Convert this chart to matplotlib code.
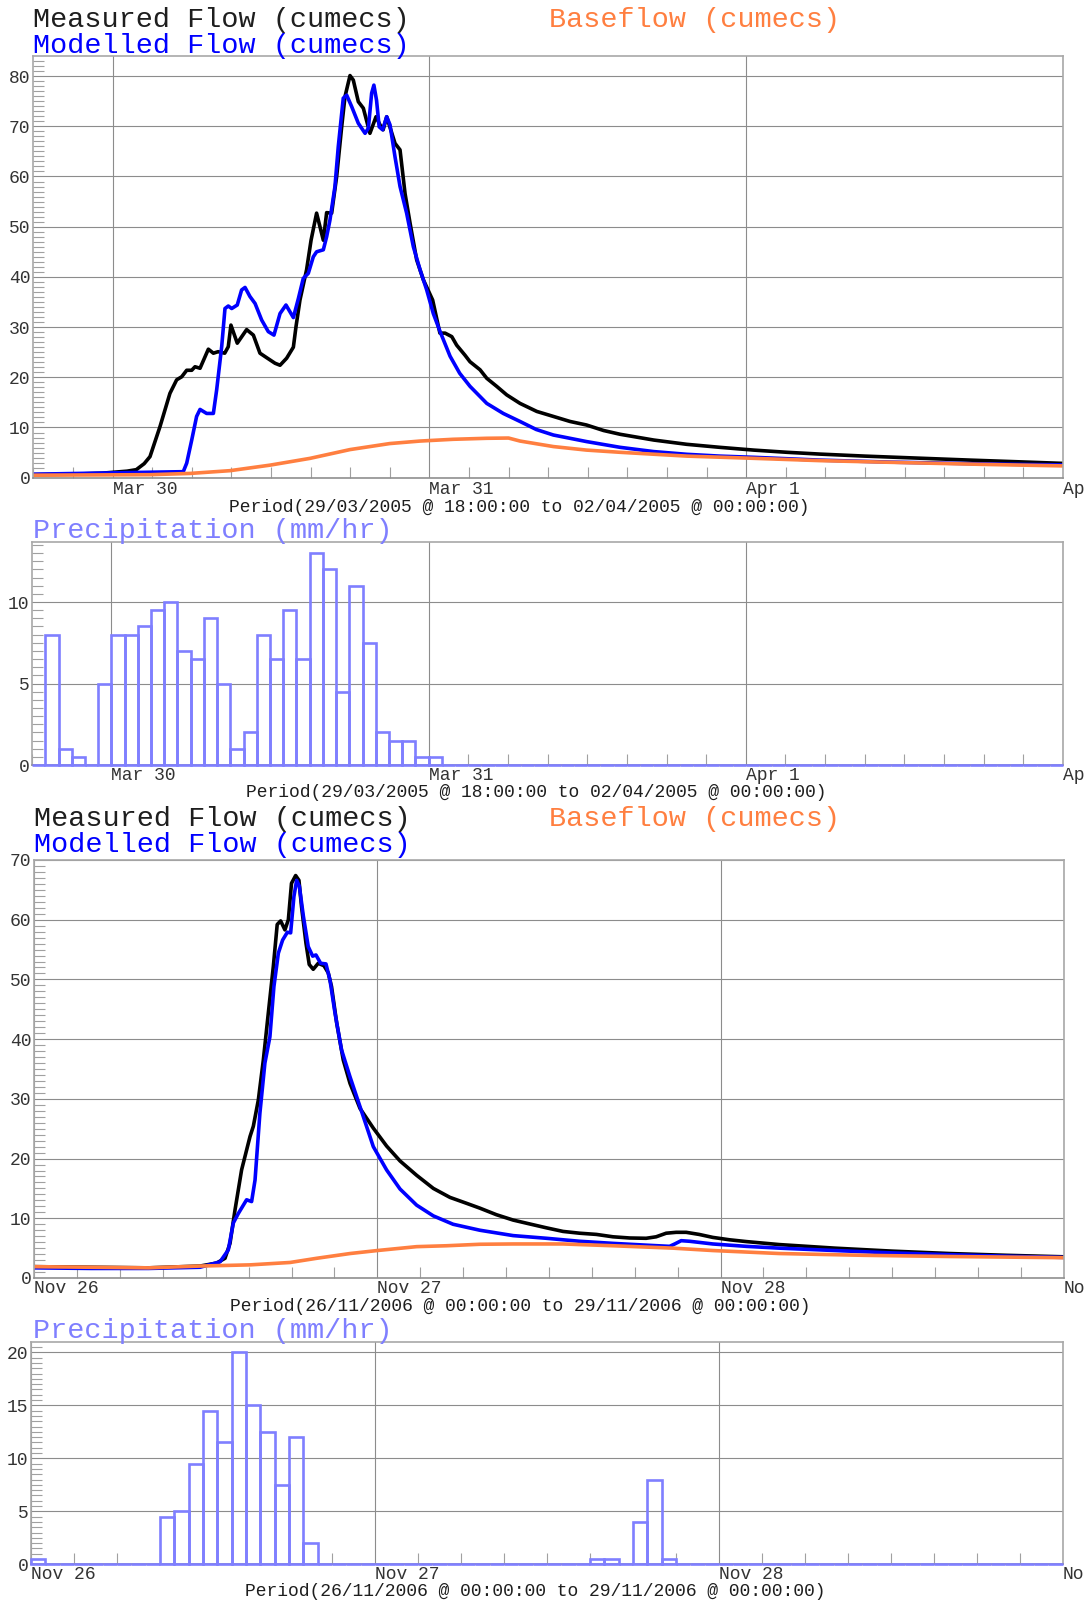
import numpy as np
import matplotlib
matplotlib.use("Agg")
import matplotlib.pyplot as plt

plt.rcParams["font.family"] = ["Liberation Mono", "DejaVu Sans Mono"]

# ---- event 1 : 29/03/2005 18:00 -> 02/04/2005 00:00 (hours from start) ----
t_meas1 = [0, 3, 5.2, 7.1, 7.8, 8.4, 8.84, 9.6, 10.35, 10.86, 11.24, 11.62, 12.0, 12.25, 12.63,
           13.26, 13.64, 14.0, 14.5, 14.77, 14.97, 15.45, 16.16, 16.67, 17.17, 17.68, 18.31,
           18.69, 19.19, 19.7, 19.9, 20.2, 20.7, 21.04, 21.46, 21.97, 22.22, 22.6, 22.98,
           23.36, 23.61, 23.99, 24.24, 24.62, 25.0, 25.5, 25.96, 26.26, 26.5, 26.77, 27.4,
           27.78, 28.16, 28.54, 29.04, 29.55, 30.25, 30.8, 31.19, 31.7, 32.07, 32.7, 33.08,
           33.84, 34.35, 35.1, 35.86, 36.87, 38.14, 39.4, 40.66, 41.9, 43.2, 44.45, 47.0,
           49.5, 52.0, 54.56, 57.1, 59.6, 63.0, 67.0, 71.0, 74.8, 78.0]
q_meas1 = [0.6, 0.7, 0.9, 1.3, 1.6, 2.8, 4.2, 10.2, 16.8, 19.5, 20.1, 21.4, 21.4, 22.1, 21.8,
           25.6, 24.8, 25.1, 24.8, 26.1, 30.4, 26.8, 29.5, 28.4, 24.8, 23.9, 22.8,
           22.4, 23.8, 26.0, 30.1, 35.4, 41.4, 47.3, 52.7, 47.3, 52.8, 52.7, 60.0,
           69.9, 75.9, 80.1, 79.2, 74.9, 73.6, 68.6, 71.9, 70.3, 69.3, 71.9, 66.6,
           65.3, 56.6, 50.7, 43.4, 39.4, 35.4, 28.8, 28.8, 28.1, 26.4, 24.4, 23.1,
           21.5, 19.8, 18.2, 16.5, 14.8, 13.2, 12.2, 11.2, 10.5, 9.4, 8.65, 7.5,
           6.65, 6.05, 5.5, 5.06, 4.7, 4.3, 3.9, 3.5, 3.15, 2.85]

t_mod1 = [0, 11.36, 11.62, 12.0, 12.37, 12.63, 13.13, 13.64, 13.89, 14.27, 14.52, 14.77, 15.03,
          15.45, 15.78, 16.04, 16.41, 16.8, 17.3, 17.8, 18.23, 18.69, 19.14, 19.7, 20.08,
          20.45, 20.83, 21.21, 21.46, 21.97, 22.22, 22.47, 22.85, 23.1, 23.48, 23.74, 24.12,
          24.62, 25.13, 25.38, 25.63, 25.8, 26.0, 26.2, 26.46, 26.77, 27.02, 27.4, 27.78,
          28.28, 28.79, 29.3, 29.8, 30.3, 30.8, 31.57, 32.3, 33.08, 34.35, 35.6, 36.87,
          38.1, 39.4, 41.9, 44.45, 47.0, 49.5, 52.0, 54.56, 59.6, 65.0, 72.0, 78.0]
q_mod1 = [0.7, 1.2, 2.9, 7.5, 12.2, 13.6, 12.8, 12.8, 17.5, 26.1, 33.7, 34.2, 33.7,
          34.4, 37.4, 37.9, 36.1, 34.7, 31.4, 29.1, 28.4, 32.7, 34.4, 31.9, 35.7,
          39.7, 40.7, 44.0, 45.0, 45.4, 48.0, 51.3, 58.0, 65.9, 75.6, 76.2, 73.9,
          70.6, 68.6, 69.6, 76.6, 78.2, 75.2, 69.9, 69.3, 71.9, 70.3, 63.9, 58.0,
          52.7, 46.0, 41.4, 37.4, 32.7, 29.2, 24.2, 20.8, 18.2, 14.8, 12.8, 11.2,
          9.6, 8.5, 7.2, 6.05, 5.2, 4.66, 4.3, 4.06, 3.5, 3.1, 2.75, 2.55]

t_base1 = [0, 8.84, 11.87, 14.9, 17.93, 20.96, 23.99, 27.0, 29.3, 31.8, 34.35, 36.0, 36.87,
           39.4, 41.9, 44.45, 49.5, 54.56, 59.6, 66.0, 72.0, 78.0]
q_base1 = [0.5, 0.6, 0.85, 1.4, 2.5, 3.85, 5.6, 6.8, 7.3, 7.65, 7.85, 7.9, 7.3,
           6.2, 5.5, 5.06, 4.3, 3.86, 3.4, 3.0, 2.65, 2.35]

# hourly rainfall, one value per hour from the start of the period
rain1 = [0, 8, 1, 0.5, 0, 5, 8, 8, 8.5, 9.5, 10, 7, 6.5, 9, 5, 1, 2, 8, 6.5, 9.5,
         6.5, 13, 12, 4.5, 11, 7.5, 2, 1.5, 1.5, 0.5, 0.5, 0, 0, 0, 0, 0, 0, 0, 0, 0,
         0, 0, 0, 0, 0, 0, 0, 0, 0, 0, 0, 0, 0, 0, 0, 0, 0, 0, 0, 0,
         0, 0, 0, 0, 0, 0, 0, 0, 0, 0, 0, 0, 0, 0, 0, 0, 0, 0]

days1 = [6, 30, 54, 78]
day_labels1 = ["Mar 30", "Mar 31", "Apr 1", "Ap"]
period1 = "Period(29/03/2005 @ 18:00:00 to 02/04/2005 @ 00:00:00)"

# ---- event 2 : 26/11/2006 00:00 -> 29/11/2006 00:00 ----
t_meas2 = [0, 4, 8, 11.6, 12.76, 13.35, 13.7, 14.05, 14.51, 15.1, 15.33, 15.68, 16.03, 16.38,
           16.73, 17.0, 17.24, 17.54, 17.78, 18.0, 18.29, 18.52, 18.7, 19.01, 19.24, 19.52,
           19.87, 20.27, 20.57, 20.8, 21.16, 21.62, 22.09, 22.79, 23.72, 24.65, 25.59, 26.75,
           27.92, 29.08, 30.25, 31.17, 32.33, 33.5, 34.66, 35.83, 36.99, 38.15, 39.32, 40.48,
           41.65, 42.8, 43.5, 44.2, 44.9, 45.6, 46.5, 47.46, 48.63, 49.8, 52.1, 56.0, 60.0,
           64.0, 68.0, 72.0]
q_meas2 = [1.9, 1.8, 1.7, 2.0, 2.5, 3.3, 5.8, 11.4, 18.1, 23.7, 25.4, 29.8, 36.5, 44.4,
           52.2, 59.2, 59.8, 58.3, 60.0, 66.1, 67.4, 66.6, 62.2, 56.1, 52.5, 51.7,
           52.7, 52.3, 51.1, 48.8, 42.7, 36.5, 32.6, 28.4, 25.1, 22.1, 19.6, 17.2,
           15.0, 13.5, 12.5, 11.7, 10.6, 9.7, 9.05, 8.4, 7.8, 7.5, 7.3, 6.9,
           6.7, 6.65, 6.9, 7.5, 7.65, 7.65, 7.3, 6.8, 6.4, 6.1, 5.6, 5.0, 4.5,
           4.1, 3.8, 3.55]

t_mod2 = [0, 4, 8, 11.6, 13.0, 13.58, 13.93, 14.28, 14.86, 15.21, 15.45, 15.79, 16.14, 16.49,
          16.77, 17.08, 17.38, 17.71, 17.94, 18.17, 18.36, 18.55, 18.83, 19.17, 19.48, 19.71,
          20.04, 20.41, 20.69, 21.04, 21.5, 22.09, 22.79, 23.72, 24.65, 25.59, 26.75, 27.92,
          29.3, 31.17, 33.5, 35.83, 38.15, 40.48, 42.8, 44.44, 44.8, 45.25, 45.84, 47.46,
          49.8, 52.1, 56.0, 60.0, 64.0, 68.0, 72.0]
q_mod2 = [1.7, 1.6, 1.6, 1.8, 2.7, 4.7, 9.2, 10.8, 13.1, 12.8, 16.4, 27.6, 36.0, 40.4,
          48.8, 54.4, 56.6, 57.9, 57.8, 63.9, 66.6, 65.6, 60.6, 55.5, 53.9, 54.1,
          52.7, 52.6, 49.9, 44.4, 38.2, 33.7, 28.7, 22.0, 18.1, 14.9, 12.2, 10.4,
          9.0, 8.0, 7.1, 6.65, 6.15, 5.8, 5.5, 5.3, 5.7, 6.25, 6.15, 5.7,
          5.3, 5.0, 4.6, 4.2, 3.9, 3.65, 3.45]

t_base2 = [0, 8, 11.6, 15.1, 17.9, 19.76, 22.1, 24.0, 26.75, 28.84, 31.18, 33.5, 36.99,
           40.48, 44.67, 47.46, 52.1, 58.0, 64.0, 72.0]
q_base2 = [1.9, 1.7, 2.0, 2.2, 2.6, 3.3, 4.1, 4.6, 5.25, 5.4, 5.65, 5.7, 5.7,
           5.4, 5.0, 4.6, 4.1, 3.8, 3.6, 3.4]

rain2 = [0.5, 0, 0, 0, 0, 0, 0, 0, 0, 4.5, 5, 9.5, 14.5, 11.5, 20, 15, 12.5, 7.5, 12, 2,
         0, 0, 0, 0, 0, 0, 0, 0, 0, 0, 0, 0, 0, 0, 0, 0, 0, 0, 0, 0.5,
         0.5, 0, 4, 8, 0.5, 0, 0, 0, 0, 0, 0, 0, 0, 0, 0, 0, 0, 0, 0, 0,
         0, 0, 0, 0, 0, 0, 0, 0, 0, 0, 0, 0]

days2 = [0, 24, 48, 72]
day_labels2 = ["Nov 26", "Nov 27", "Nov 28", "No"]
period2 = "Period(26/11/2006 @ 00:00:00 to 29/11/2006 @ 00:00:00)"

# ---- styling ----
W, H = 1090, 1600
BLACK, BLUE, ORANGE, RAIN = "#000000", "#0000ff", "#ff7f40", "#7f7fff"
TXT, TICK = "#1e1e1e", "#333333"
BIG, SMALL = 20.5, 13

fig = plt.figure(figsize=(W / 100, H / 100), dpi=100)


def box(l, t, r, b):
    return [l / W, 1 - b / H, (r - l) / W, (b - t) / H]


def ftext(x, y, s, color, size, **kw):
    fig.text(x / W, 1 - y / H, s, color=color, fontsize=size, va="baseline", **kw)


def style(ax, xmax, days, labels, ymax, ystep, yminor, xpad):
    ax.set_xlim(0, xmax)
    ax.set_ylim(0, ymax)
    ax.set_xticks(days, labels)
    ax.set_xticks(np.arange(0, xmax + 0.1, 3), minor=True)
    ax.set_yticks(np.arange(0, ymax + 0.01, ystep))
    ax.set_yticks(np.arange(0, ymax, yminor), minor=True)
    for lab in ax.get_xticklabels():
        lab.set_horizontalalignment("left")
    ax.set_axisbelow(True)
    ax.grid(True, which="major", color="#8c8c8c", linewidth=0.8)
    ax.tick_params(which="major", length=0, labelsize=SMALL, labelcolor=TICK)
    ax.tick_params(axis="x", which="major", pad=xpad)
    ax.tick_params(axis="y", which="major", pad=2)
    ax.tick_params(which="minor", direction="in", length=8, width=0.8, color="#a0a0a0")
    for sp in ax.spines.values():
        sp.set_color("#a8a8a8")
        sp.set_linewidth(1.2)
    ax.spines["bottom"].set_color("#909090")


def flow_panel(ax, tm, qm, tq, qq, tb, qb):
    ax.plot(tm, qm, color=BLACK, lw=2.6, solid_joinstyle="round")
    ax.plot(tq, qq, color=BLUE, lw=2.6, solid_joinstyle="round")
    ax.plot(tb, qb, color=ORANGE, lw=2.6, solid_joinstyle="round")


def rain_panel(ax, rain):
    hours = np.arange(len(rain))
    ax.bar(hours, rain, width=1, align="edge", fill=False, edgecolor=RAIN,
           linewidth=1.9, zorder=3, clip_on=False)


ax1 = fig.add_axes(box(33.3, 56, 1063, 477.7))
flow_panel(ax1, t_meas1, q_meas1, t_mod1, q_mod1, t_base1, q_base1)
style(ax1, 78, days1, day_labels1, 84, 10, 1, 2.5)

ax2 = fig.add_axes(box(32.1, 541.7, 1063, 765))
rain_panel(ax2, rain1)
style(ax2, 78, days1, day_labels1, 13.7, 5, 0.5, 1.2)

ax3 = fig.add_axes(box(34.1, 860, 1063.7, 1278))
flow_panel(ax3, t_meas2, q_meas2, t_mod2, q_mod2, t_base2, q_base2)
style(ax3, 72, days2, day_labels2, 70, 10, 1, 1.2)

ax4 = fig.add_axes(box(31.1, 1341.7, 1062.8, 1564.3))
rain_panel(ax4, rain2)
style(ax4, 72, days2, day_labels2, 21, 5, 0.5, 1.2)

# panel headings
ftext(33, 27, "Measured Flow (cumecs)", TXT, BIG)
ftext(549, 27, "Baseflow (cumecs)", ORANGE, BIG)
ftext(33, 53, "Modelled Flow (cumecs)", BLUE, BIG)
ftext(229, 511.5, period1, TXT, SMALL)
ftext(33, 538, "Precipitation (mm/hr)", RAIN, BIG)
ftext(246, 797, period1, TXT, SMALL)
ftext(34, 826, "Measured Flow (cumecs)", TXT, BIG)
ftext(549, 826, "Baseflow (cumecs)", ORANGE, BIG)
ftext(34, 852, "Modelled Flow (cumecs)", BLUE, BIG)
ftext(230, 1311, period2, TXT, SMALL)
ftext(33, 1338, "Precipitation (mm/hr)", RAIN, BIG)
ftext(245, 1596, period2, TXT, SMALL)

fig.savefig("out.png", dpi=100)
